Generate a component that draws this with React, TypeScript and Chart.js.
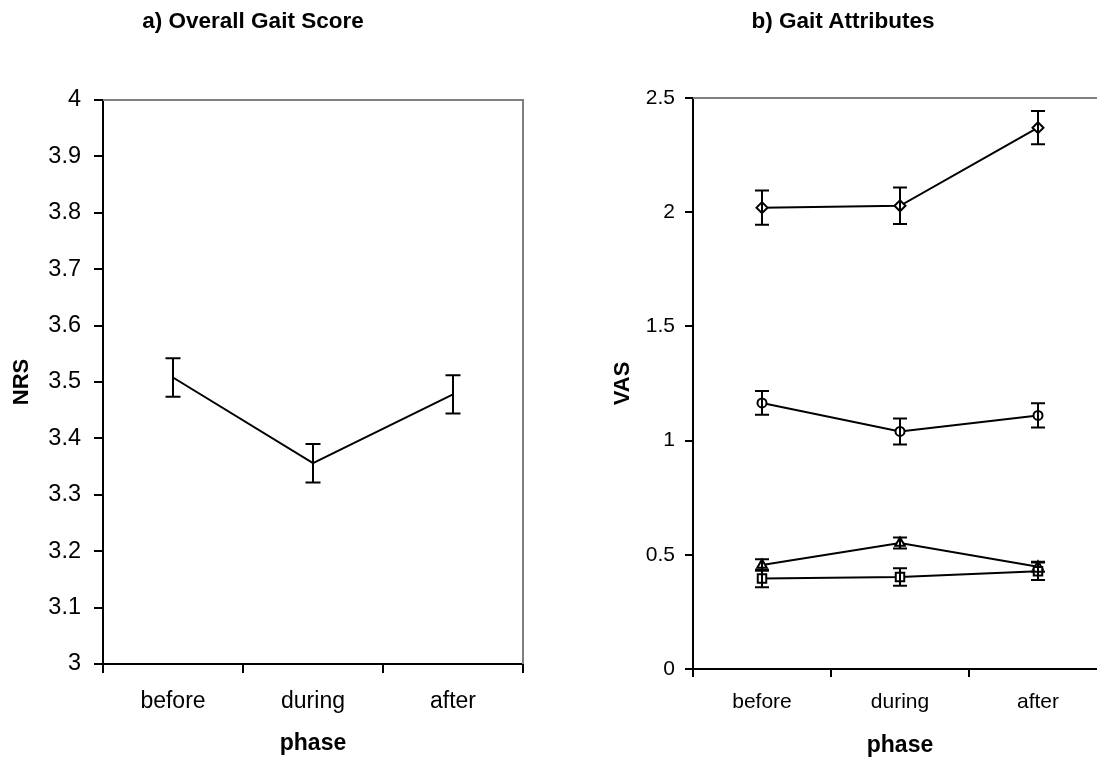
import React, { useEffect, useRef } from 'react';
import { Chart, registerables } from 'chart.js';

Chart.register(...registerables);

// ---- data ----
const phases = ['before', 'during', 'after'];

const nrsMean = [3.508, 3.356, 3.478];
const nrsErr = [0.034, 0.034, 0.034];
const nrsTicks = [3, 3.1, 3.2, 3.3, 3.4, 3.5, 3.6, 3.7, 3.8, 3.9, 4];

const diamondMean = [2.02, 2.028, 2.37];
const diamondErr = [0.075, 0.08, 0.073];
const circleMean = [1.165, 1.04, 1.11];
const circleErr = [0.052, 0.057, 0.053];
const triangleMean = [0.455, 0.552, 0.448];
const triangleErr = [0.025, 0.024, 0.022];
const squareMean = [0.396, 0.403, 0.428];
const squareErr = [0.038, 0.038, 0.038];
const vasTicks = [0, 0.5, 1, 1.5, 2, 2.5];

const FONT = "'Liberation Sans', Arial, Helvetica, sans-serif";

const errorBarPlugin = {
  id: 'errorBars',
  afterDatasetsDraw(chart: any, _args: any, opts: any) {
    const { ctx } = chart;
    const xs = chart.scales.x;
    const ys = chart.scales.y;
    const half = opts.cap ?? 7;
    ctx.save();
    ctx.strokeStyle = '#000';
    ctx.lineWidth = 2;
    chart.data.datasets.forEach((ds: any) => {
      const errs: number[] | undefined = ds.errors;
      if (!errs) return;
      ds.data.forEach((v: number, i: number) => {
        const x = xs.getPixelForValue(i);
        const yt = ys.getPixelForValue(v + errs[i]);
        const yb = ys.getPixelForValue(v - errs[i]);
        ctx.beginPath();
        ctx.moveTo(x, yt);
        ctx.lineTo(x, yb);
        ctx.moveTo(x - half, yt);
        ctx.lineTo(x + half, yt);
        ctx.moveTo(x - half, yb);
        ctx.lineTo(x + half, yb);
        ctx.stroke();
      });
    });
    ctx.restore();
  },
};

const framePlugin = {
  id: 'frame',
  beforeDatasetsDraw(chart: any) {
    const { ctx, chartArea } = chart;
    ctx.save();
    ctx.strokeStyle = '#808080';
    ctx.lineWidth = 2;
    ctx.beginPath();
    ctx.moveTo(chartArea.left, chartArea.top);
    ctx.lineTo(chartArea.right, chartArea.top);
    ctx.lineTo(chartArea.right, chartArea.bottom);
    ctx.stroke();
    ctx.restore();
  },
};

function axisX(tickFont: number, tickLen: number, tickPad: number, titleFont: number, titleBottom: number, height: number) {
  return {
    type: 'category',
    offset: true,
    grid: {
      offset: true,
      drawOnChartArea: false,
      drawTicks: true,
      tickLength: tickLen,
      color: '#000',
      lineWidth: 2,
    },
    border: { display: true, color: '#000', width: 2 },
    ticks: { color: '#000', font: { family: FONT, size: tickFont }, padding: tickPad, maxRotation: 0, autoSkip: false },
    title: {
      display: true,
      text: 'phase',
      color: '#000',
      font: { family: FONT, size: titleFont, weight: 'bold' },
      padding: { top: 0, bottom: titleBottom },
    },
    afterFit: (s: any) => {
      s.height = height;
    },
  };
}

function axisY(
  min: number,
  max: number,
  tickVals: number[],
  title: string,
  tickFont: number,
  tickLen: number,
  tickPad: number,
  titleFont: number,
  titleTop: number,
  width: number
) {
  return {
    type: 'linear',
    min,
    max,
    afterBuildTicks: (s: any) => {
      s.ticks = tickVals.map((v) => ({ value: v }));
    },
    grid: {
      drawOnChartArea: false,
      drawTicks: true,
      tickLength: tickLen,
      color: '#000',
      lineWidth: 2,
    },
    border: { display: true, color: '#000', width: 2 },
    ticks: {
      color: '#000',
      font: { family: FONT, size: tickFont },
      padding: tickPad,
      callback: (v: any) => String(v),
    },
    title: {
      display: true,
      text: title,
      color: '#000',
      font: { family: FONT, size: titleFont, weight: 'bold' },
      padding: { top: titleTop, bottom: 0 },
    },
    afterFit: (s: any) => {
      s.width = width;
    },
  };
}

function LeftChart() {
  const ref = useRef<HTMLCanvasElement>(null);
  useEffect(() => {
    if (!ref.current) return;
    const chart = new Chart(ref.current, {
      type: 'line',
      data: {
        labels: phases,
        datasets: [
          {
            data: nrsMean,
            errors: nrsErr,
            borderColor: '#000',
            borderWidth: 2,
            pointRadius: 0,
            fill: false,
            tension: 0,
          } as any,
        ],
      },
      options: {
        responsive: false,
        animation: false,
        devicePixelRatio: 1,
        layout: { padding: { top: 100, right: 37, bottom: 0, left: 0 } },
        scales: {
          x: axisX(23, 9, 15, 23, 2, 95) as any,
          y: axisY(3, 4, nrsTicks, 'NRS', 23.5, 9, 13, 22, 9, 103) as any,
        },
        plugins: {
          legend: { display: false },
          tooltip: { enabled: false },
          errorBars: { cap: 7.5 },
        } as any,
      },
      plugins: [framePlugin, errorBarPlugin],
    });
    return () => chart.destroy();
  }, []);
  return (
    <canvas
      ref={ref}
      width={560}
      height={759}
      style={{ position: 'absolute', left: 0, top: 0, width: 560, height: 759 }}
    />
  );
}

function RightChart() {
  const ref = useRef<HTMLCanvasElement>(null);
  useEffect(() => {
    if (!ref.current) return;
    const base = {
      borderColor: '#000',
      borderWidth: 2,
      pointBackgroundColor: '#fff',
      pointBorderColor: '#000',
      pointBorderWidth: 2,
      fill: false,
      tension: 0,
    };
    const chart = new Chart(ref.current, {
      type: 'line',
      data: {
        labels: phases,
        datasets: [
          { ...base, data: squareMean, errors: squareErr, pointStyle: 'rect', pointRadius: 6 } as any,
          { ...base, data: triangleMean, errors: triangleErr, pointStyle: 'triangle', pointRadius: 5.5 } as any,
          { ...base, data: circleMean, errors: circleErr, pointStyle: 'circle', pointRadius: 4.5 } as any,
          { ...base, data: diamondMean, errors: diamondErr, pointStyle: 'rectRot', pointRadius: 5.5 } as any,
        ],
      },
      options: {
        responsive: false,
        animation: false,
        devicePixelRatio: 1,
        layout: { padding: { top: 98, right: 43, bottom: 0, left: 0 } },
        scales: {
          x: axisX(21, 8, 13, 23, 0, 90) as any,
          y: axisY(0, 2.5, vasTicks, 'VAS', 21, 8, 10, 22, 10, 93) as any,
        },
        plugins: {
          legend: { display: false },
          tooltip: { enabled: false },
          errorBars: { cap: 7 },
        } as any,
      },
      plugins: [framePlugin, errorBarPlugin],
    });
    return () => chart.destroy();
  }, []);
  return (
    <canvas
      ref={ref}
      width={550}
      height={759}
      style={{ position: 'absolute', left: 600, top: 0, width: 550, height: 759 }}
    />
  );
}

const titleStyle: React.CSSProperties = {
  position: 'absolute',
  top: 10,
  width: 400,
  textAlign: 'center',
  fontFamily: FONT,
  fontWeight: 'bold',
  fontSize: 22.5,
  lineHeight: '22px',
  color: '#000',
  whiteSpace: 'nowrap',
};

export default function App() {
  return (
    <div
      style={{
        position: 'absolute',
        left: 0,
        top: 0,
        width: 1097,
        height: 759,
        overflow: 'hidden',
        background: '#fff',
      }}
    >
      <LeftChart />
      <RightChart />
      <div style={{ ...titleStyle, left: 253 - 200 }}>a) Overall Gait Score</div>
      <div style={{ ...titleStyle, left: 843 - 200 }}>b) Gait Attributes</div>
    </div>
  );
}
